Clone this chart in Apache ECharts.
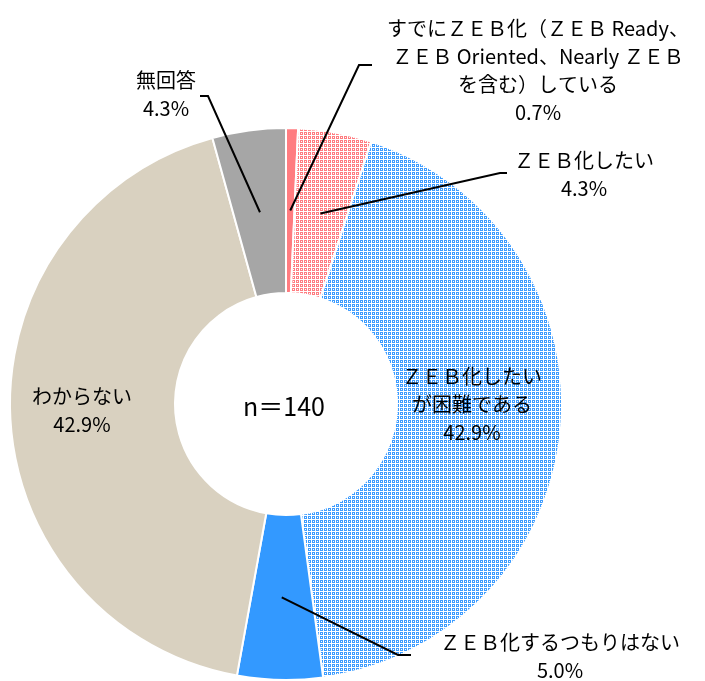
<!DOCTYPE html>
<html>
<head>
<meta charset="utf-8">
<script src="https://cdn.jsdelivr.net/npm/echarts@6/dist/echarts.min.js"></script>
<style>
    html, body { margin: 0; padding: 0; background: #fff; }
    #chart { width: 705px; height: 681px; }
</style>
</head>
<body>
<div id="chart"></div>
<script>
var categories = [
    'すでにＺＥＢ化（ＺＥＢ Ready、\nＺＥＢ Oriented、Nearly ＺＥＢ\nを含む）している',
    'ＺＥＢ化したい',
    'ＺＥＢ化したい\nが困難である',
    'ＺＥＢ化するつもりはない',
    'わからない',
    '無回答'
];
var values = [0.7, 4.3, 42.9, 5.0, 42.9, 4.3];
var sampleLabel = 'n＝140';

// layout of the ring and the labels
var cx = 286, cy = 404, r0 = 111, r1 = 276;
var insideLabel = [false, false, true, false, true, false];
var labelPos = [[538, 70], [584, 174], [472, 404], [560, 656], [82, 410], [166, 94]];
var elbows = [
    [[359, 65], [372, 65]],
    [[500, 173], [507, 173]],
    null,
    [[398, 655], [411, 655]],
    null,
    [[208, 96], [200, 96]]
];

function makePattern(base) {
    var c = document.createElement('canvas');
    c.width = 4;
    c.height = 4;
    var ctx = c.getContext('2d');
    ctx.fillStyle = '#fff';
    ctx.fillRect(0, 0, 4, 4);
    ctx.fillStyle = base;
    ctx.fillRect(0, 0, 3, 3);
    ctx.fillStyle = '#fff';
    ctx.fillRect(1, 1, 1, 1);
    return { image: c, repeat: 'repeat' };
}

var colors = [
    '#ff7c80',
    makePattern('#ff7c80'),
    makePattern('#3d9cff'),
    '#3399ff',
    '#d9d1c0',
    '#a6a6a6'
];

// point in the middle of the ring, at the middle of slice i
function ringPoint(i) {
    var total = 0, before = 0;
    for (var k = 0; k < values.length; k++) {
        total += values[k];
        if (k < i) before += values[k];
    }
    var t = 2 * Math.PI * (before + values[i] / 2) / total;
    var rm = (r0 + r1) / 2;
    return [cx + rm * Math.sin(t), cy - rm * Math.cos(t)];
}

var ringData = [];
var labelData = [];
for (var i = 0; i < values.length; i++) {
    ringData.push({
        name: categories[i],
        value: values[i],
        itemStyle: { color: colors[i] }
    });
    var item = { name: categories[i], value: values[i] };
    if (insideLabel[i]) {
        item.label = { position: 'inside' };
        item.labelLine = { show: false };
    }
    labelData.push(item);
}

var myChart = echarts.init(document.getElementById('chart'));

var option = {
    animation: false,
    graphic: [{
        type: 'text',
        x: 284,
        y: 406,
        style: {
            text: sampleLabel,
            fill: '#000',
            font: '25px "Noto Sans CJK JP", sans-serif',
            textAlign: 'center',
            textVerticalAlign: 'middle'
        }
    }],
    series: [{
        // the coloured ring
        type: 'pie',
        center: [cx, cy],
        radius: [r0, r1],
        startAngle: 90,
        clockwise: true,
        silent: true,
        itemStyle: {
            borderColor: '#fff',
            borderWidth: 2
        },
        label: { show: false },
        labelLine: { show: false },
        data: ringData
    }, {
        // same slices, see-through, only for labels and leader lines on top
        type: 'pie',
        z: 5,
        center: [cx, cy],
        radius: [r0, r1],
        startAngle: 90,
        clockwise: true,
        avoidLabelOverlap: false,
        silent: true,
        itemStyle: {
            color: 'rgba(0,0,0,0)',
            borderWidth: 0
        },
        label: {
            show: true,
            color: '#000',
            fontFamily: '"Noto Sans CJK JP", sans-serif',
            fontSize: 20,
            lineHeight: 28,
            align: 'center',
            overflow: 'none',
            formatter: function (p) {
                return p.name + '\n' + p.value.toFixed(1) + '%';
            }
        },
        labelLine: {
            show: true,
            lineStyle: { color: '#000', width: 2 }
        },
        labelLayout: function (p) {
            var i = p.dataIndex;
            var out = {
                x: labelPos[i][0],
                y: labelPos[i][1],
                align: 'center',
                verticalAlign: 'middle'
            };
            if (elbows[i]) {
                out.labelLinePoints = [ringPoint(i), elbows[i][0], elbows[i][1]];
            }
            return out;
        },
        data: labelData
    }]
};

myChart.setOption(option);
</script>
</body>
</html>
